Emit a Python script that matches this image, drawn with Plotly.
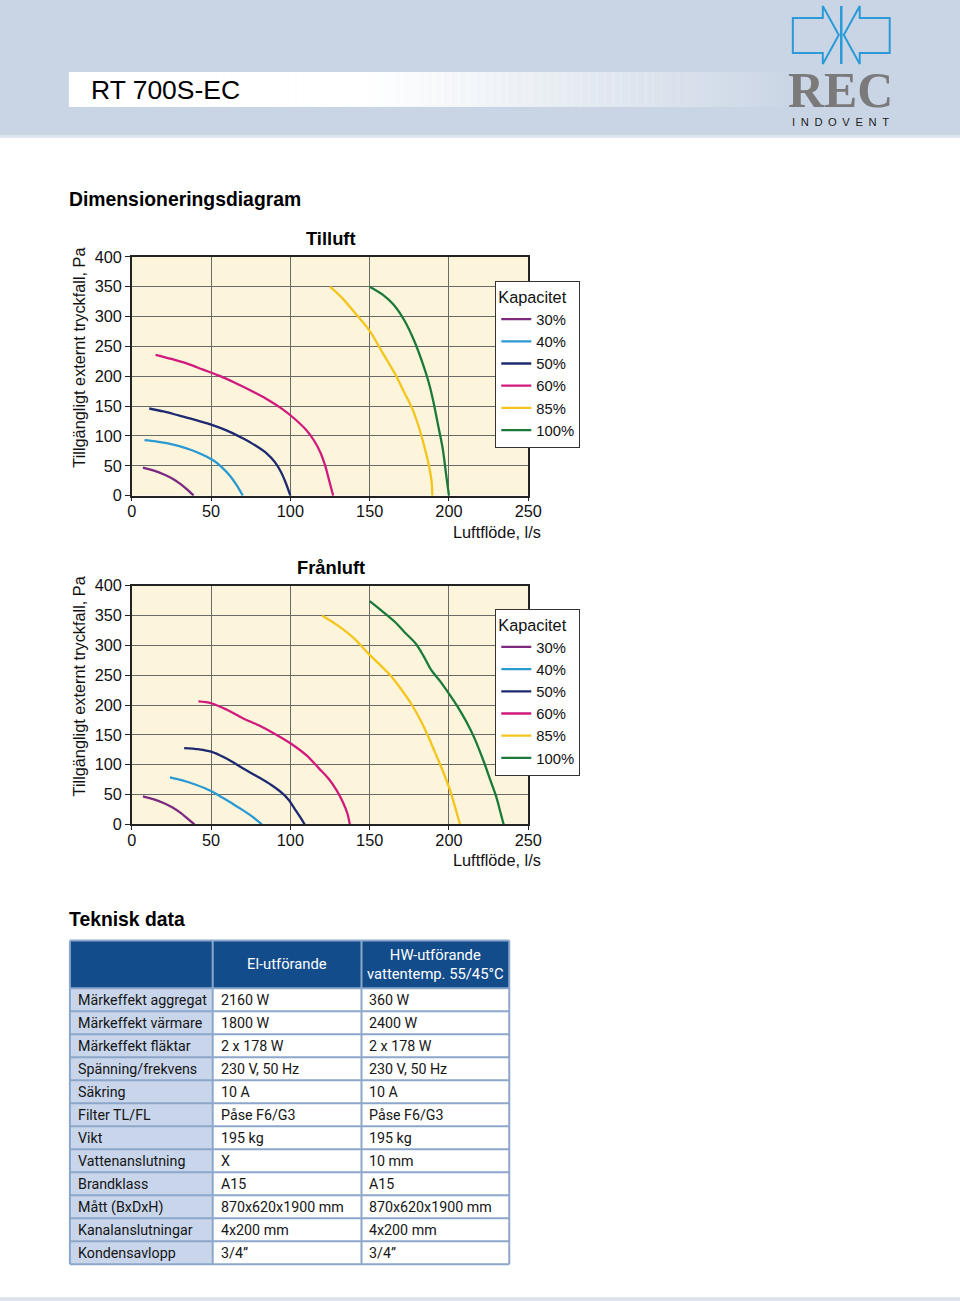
import math
import plotly.graph_objects as go

# The screenshot of the page shows the figure slightly reduced; build the page in
# reference-pixel coordinates and compensate for that.
SX, SY = 0.982, 0.987
W = math.ceil(960 / SX)
H = math.ceil(1301 / SY)
FS = 1 / SX  # font scale

# ---------------- data ----------------
capacities = ["30%", "40%", "50%", "60%", "85%", "100%"]
colors = ["#7b2a7f", "#2b9ad3", "#1e2a70", "#d01a7c", "#f4c51a", "#1b7a3b"]

til_x30 = [7, 14, 20, 26, 31, 35, 39]
til_y30 = [47, 42, 36, 28, 19, 10, 0]
til_x40 = [8, 15, 22, 30, 38, 45, 52, 57, 62, 66, 70]
til_y40 = [93, 91, 88, 83, 76, 68, 58, 47, 33, 18, 0]
til_x50 = [11, 20, 30, 40, 50, 60, 70, 78, 85, 90, 94, 97, 100]
til_y50 = [146, 141, 134, 127, 119, 109, 96, 84, 71, 57, 40, 22, 0]
til_x60 = [15, 25, 35, 45, 55, 65, 75, 85, 95, 103, 110, 115, 119, 122, 124, 127]
til_y60 = [236, 229, 221, 211, 201, 189, 176, 162, 145, 128, 110, 92, 72, 50, 30, 0]
til_x85 = [125, 133, 142, 150, 158, 166, 172, 177, 181, 184, 187, 189, 189.5]
til_y85 = [350, 330, 302, 276, 240, 204, 172, 145, 115, 87, 55, 25, 0]
til_x100 = [150, 158, 165, 172, 178, 183, 187, 190, 193, 196, 198, 200]
til_y100 = [350, 337, 320, 293, 260, 225, 192, 160, 120, 80, 40, 0]

fra_x30 = [7, 14, 20, 26, 31, 35, 39.5]
fra_y30 = [47, 42, 36, 28, 19, 10, 0]
fra_x40 = [24, 32, 40, 50, 57, 64, 70, 76, 82]
fra_y40 = [79, 74, 67, 56, 45, 34, 24, 13, 0]
fra_x50 = [33, 42, 50, 60, 70, 80, 88, 95, 99, 103, 106, 109]
fra_y50 = [128, 126, 122, 110, 94, 79, 66, 52, 41, 25, 13, 0]
fra_x60 = [42, 50, 60, 70, 80, 90, 100, 110, 118, 124, 129, 133, 136, 137.5]
fra_y60 = [206, 203, 192, 178, 166, 152, 136, 116, 94, 77, 58, 38, 18, 0]
fra_x85 = [120, 130, 140, 150, 157, 163, 170, 176, 182, 187, 191, 195, 198, 201, 204, 207]
fra_y85 = [350, 333, 312, 284, 266, 250, 226, 203, 175, 147, 122, 97, 77, 55, 28, 0]
fra_x100 = [150, 158, 166, 172, 179, 184, 189, 195, 200, 206, 211, 216, 222, 226, 230, 232, 234.5]
fra_y100 = [374, 357, 339, 322, 303, 282, 258, 238, 219, 195, 172, 145, 105, 75, 45, 25, 0]

x_ticks = [0, 50, 100, 150, 200, 250]
y_ticks = [0, 50, 100, 150, 200, 250, 300, 350, 400]

row_labels = ["Märkeffekt aggregat", "Märkeffekt värmare", "Märkeffekt fläktar",
              "Spänning/frekvens", "Säkring", "Filter TL/FL", "Vikt",
              "Vattenanslutning", "Brandklass", "Mått (BxDxH)",
              "Kanalanslutningar", "Kondensavlopp"]
el_values = ["2160 W", "1800 W", "2 x 178 W", "230 V, 50 Hz", "10 A", "Påse F6/G3",
             "195 kg", "X", "A15", "870x620x1900 mm", "4x200 mm", "3/4”"]
hw_values = ["360 W", "2400 W", "2 x 178 W", "230 V, 50 Hz", "10 A", "Påse F6/G3",
             "195 kg", "10 mm", "A15", "870x620x1900 mm", "4x200 mm", "3/4”"]
table_header = ["", "El-utförande", "HW-utförande<br>vattentemp. 55/45°C"]

til = [(til_x30, til_y30), (til_x40, til_y40), (til_x50, til_y50),
       (til_x60, til_y60), (til_x85, til_y85), (til_x100, til_y100)]
fra = [(fra_x30, fra_y30), (fra_x40, fra_y40), (fra_x50, fra_y50),
       (fra_x60, fra_y60), (fra_x85, fra_y85), (fra_x100, fra_y100)]


def px(x):
    return (x / SX) / W


def py(y):
    return 1 - (y / SY) / H


def fs(s):
    return round(s * FS, 2)


FONT = "Liberation Sans, Arial, sans-serif"
TFONT = "Roboto, Liberation Sans, Arial, sans-serif"

fig = go.Figure()

for i, (xs, ys) in enumerate(til):
    fig.add_trace(go.Scatter(x=xs, y=ys, mode="lines", name=capacities[i],
                             line=dict(color=colors[i], width=2.3, shape="spline", smoothing=0.9),
                             xaxis="x", yaxis="y", legend="legend", hoverinfo="skip"))
for i, (xs, ys) in enumerate(fra):
    fig.add_trace(go.Scatter(x=xs, y=ys, mode="lines", name=capacities[i],
                             line=dict(color=colors[i], width=2.3, shape="spline", smoothing=0.9),
                             xaxis="x2", yaxis="y2", legend="legend2", hoverinfo="skip"))

axis_common = dict(range=[0, 250], tickvals=x_ticks, showgrid=True, gridcolor="#6a6a6a",
                   gridwidth=1, showline=True, linecolor="#222", linewidth=1.5, mirror=True,
                   ticks="outside", ticklen=4, tickcolor="#222", zeroline=False,
                   ticklabelstandoff=-4,
                   tickfont=dict(family=FONT, size=fs(16), color="#111"), fixedrange=True)
yaxis_common = dict(range=[0, 400], tickvals=y_ticks, showgrid=True, gridcolor="#6a6a6a",
                    gridwidth=1, showline=True, linecolor="#222", linewidth=1.5, mirror=True,
                    ticks="outside", ticklen=5, tickcolor="#222", zeroline=False,
                    tickfont=dict(family=FONT, size=fs(16), color="#111"), fixedrange=True)

legend_common = dict(xanchor="left", yanchor="top", bgcolor="white", bordercolor="#333",
                     borderwidth=1, font=dict(family=FONT, size=fs(14.5), color="#111"),
                     title=dict(text="Kapacitet", font=dict(family=FONT, size=fs(16), color="#111")),
                     tracegroupgap=0, itemwidth=30)

shapes = []


def rect(x0, x1, y0, y1, color, **kw):
    shapes.append(dict(type="rect", xref="paper", yref="paper", x0=px(x0), x1=px(x1),
                       y0=py(y1), y1=py(y0), fillcolor=color, line=dict(width=0),
                       layer="below", **kw))


def hline(x0, x1, y, color, width):
    shapes.append(dict(type="line", xref="paper", yref="paper", x0=px(x0), x1=px(x1),
                       y0=py(y), y1=py(y), line=dict(color=color, width=width)))


def vline(x, y0, y1, color, width):
    shapes.append(dict(type="line", xref="paper", yref="paper", x0=px(x), x1=px(x),
                       y0=py(y1), y1=py(y0), line=dict(color=color, width=width)))


# header band
rect(-10, 980, -10, 134, "#c9d5e5")
rect(-10, 980, 134, 137, "#dfe6ef")
# gradient title bar
n = 90
x_start, x_end = 68, 800
for k in range(n):
    t = k / n
    op = 1.0 if t < 0.4 else max(0.0, 1 - (t - 0.4) / 0.6)
    xa = x_start + (x_end - x_start) * k / n
    xb = x_start + (x_end - x_start) * (k + 1) / n + 0.5
    rect(xa, xb, 71, 106, "white", opacity=op)
# bottom strip
rect(-10, 980, 1297, 1320, "#dbe2ea")


def path(points):
    return "M " + " L ".join(f"{px(a):.5f},{py(b):.5f}" for a, b in points) + " Z"


left_arrow = [(793, 17), (823, 17), (823, 5), (839, 34), (823, 63), (823, 52), (793, 52)]
right_arrow = [(1683 - a, b) for a, b in left_arrow]
for pts in (left_arrow, right_arrow):
    shapes.append(dict(type="path", xref="paper", yref="paper", path=path(pts),
                       line=dict(color="#2b9bd7", width=2)))
vline(841.5, 5, 63, "#2b9bd7", 2.5)

annotations = []


def ann(text, x, y, size=16, bold=False, xanchor="center", yanchor="middle", angle=0,
        family=FONT, color="#111"):
    if bold:
        text = f"<b>{text}</b>"
    annotations.append(dict(text=text, x=px(x), y=py(y), xref="paper", yref="paper",
                            showarrow=False, xanchor=xanchor, yanchor=yanchor,
                            textangle=angle, font=dict(family=family, size=fs(size), color=color)))


# ---------------- table (built from the arrays) ----------------
col_edges = [69, 212, 361, 509]
head_top, head_h, row_h = 940, 48, 23
n_rows = len(row_labels)
table_bottom = head_top + head_h + n_rows * row_h
border = "#8da7cb"
rect(col_edges[0], col_edges[-1], head_top, head_top + head_h, "#124c8b")
rect(col_edges[0], col_edges[1], head_top + head_h, table_bottom, "#c8d5ea")
for r in range(n_rows + 1):
    hline(col_edges[0], col_edges[-1], head_top + head_h + r * row_h, border, 2)
for xe in col_edges:
    vline(xe, head_top, table_bottom, border, 2)
hline(col_edges[0], col_edges[-1], head_top, border, 2)

for c, htxt in enumerate(table_header):
    if htxt:
        ann(htxt, (col_edges[c] + col_edges[c + 1]) / 2, head_top + head_h / 2, size=14.5,
            family=TFONT, color="white")
for c, col in enumerate([row_labels, el_values, hw_values]):
    for r, txt in enumerate(col):
        ann(txt, col_edges[c] + 6, head_top + head_h + r * row_h + row_h / 2 + 0.5, size=14,
            xanchor="left", family=TFONT, color="#161616")

# ---------------- text ----------------
ann("RT 700S-EC", 88, 89, size=26, xanchor="left", color="#000")
ann("REC", 841, 90, size=49, bold=True, family="Liberation Serif, serif", color="#7a7a7a")
ann("I\u2002N\u2002D\u2002O\u2002V\u2002E\u2002N\u2002T", 841, 121, size=11, color="#222")
ann("Dimensioneringsdiagram", 66, 198, size=19, bold=True, xanchor="left", color="#000")
ann("Tilluft", 330, 238, size=18, bold=True, color="#000")
ann("Frånluft", 330, 567, size=18, bold=True, color="#000")
ann("Tillgängligt externt tryckfall, Pa", 78, 356, size=16, angle=-90)
ann("Tillgängligt externt tryckfall, Pa", 78, 685, size=16, angle=-90)
ann("Luftflöde, l/s", 543, 531, size=16, xanchor="right")
ann("Luftflöde, l/s", 543, 860, size=16, xanchor="right")
ann("Teknisk data", 66, 919, size=19, bold=True, xanchor="left", color="#000")

fig.update_layout(
    width=W, height=H, margin=dict(l=0, r=0, t=0, b=0, pad=0),
    paper_bgcolor="white", plot_bgcolor="#fdf4dc",
    xaxis=dict(domain=[px(131), px(528)], anchor="y", **axis_common),
    yaxis=dict(domain=[py(495), py(256)], anchor="x", **yaxis_common),
    xaxis2=dict(domain=[px(131), px(528)], anchor="y2", **axis_common),
    yaxis2=dict(domain=[py(824), py(585)], anchor="x2", **yaxis_common),
    legend=dict(x=px(495), y=py(280), **legend_common),
    legend2=dict(x=px(495), y=py(608), **legend_common),
    shapes=shapes, annotations=annotations, showlegend=True,
)

fix_page = (
    "document.documentElement.style.margin='0';"
    "document.documentElement.style.padding='0';"
    "document.body.style.margin='0';document.body.style.padding='0';"
    "document.documentElement.style.overflow='hidden';document.body.style.overflow='hidden';"
    "var gd=document.getElementById('{plot_id}');"
    "gd.style.position='fixed';gd.style.left='-4px';gd.style.top='-8px';"
)

fig.write_html("out.html", config={"displayModeBar": False}, post_script=fix_page)
